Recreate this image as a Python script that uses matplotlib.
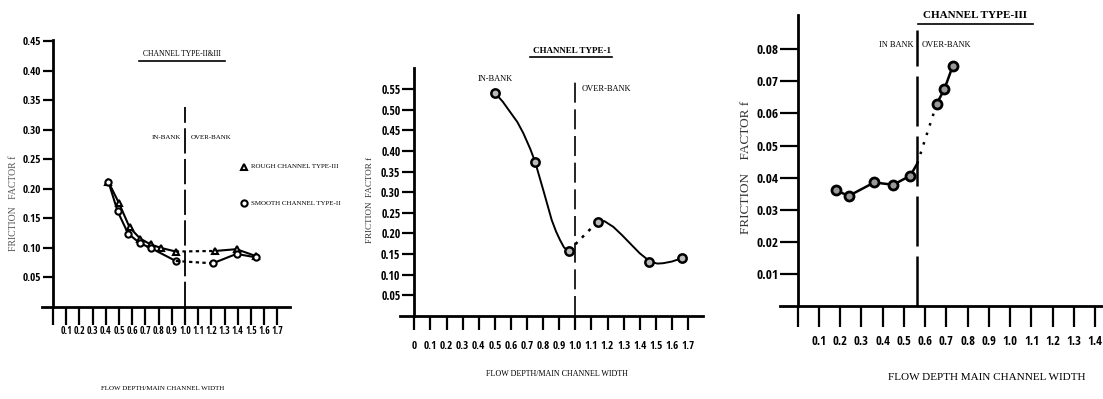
import matplotlib.pyplot as plt
from matplotlib.lines import Line2D

W, H = 1103, 399

# ---------------- data ----------------
# panel 1 : channel type II & III
p1_xticks = [0.0, 0.1, 0.2, 0.3, 0.4, 0.5, 0.6, 0.7, 0.8, 0.9, 1.0, 1.1, 1.2, 1.3, 1.4, 1.5, 1.6, 1.7]
p1_xlabels = ['', '0.1', '0.2', '0.3', '0.4', '0.5', '0.6', '0.7', '0.8', '0.9', '1.0',
              '1.1', '1.2', '1.3', '1.4', '1.5', '1.6', '1.7']
p1_yticks = [0.05, 0.10, 0.15, 0.20, 0.25, 0.30, 0.35, 0.40, 0.45]
p1_ylabels = ['0.05', '0.10', '0.15', '0.20', '0.25', '0.30', '0.35', '0.40', '0.45']
rough_in_x = [0.42, 0.50, 0.58, 0.66, 0.74, 0.82, 0.93]
rough_in_y = [0.212, 0.176, 0.135, 0.116, 0.106, 0.100, 0.094]
rough_over_x = [1.23, 1.39, 1.54]
rough_over_y = [0.095, 0.098, 0.086]
smooth_in_x = [0.42, 0.49, 0.57, 0.66, 0.74, 0.93]
smooth_in_y = [0.212, 0.162, 0.124, 0.108, 0.100, 0.078]
smooth_over_x = [1.21, 1.39, 1.54]
smooth_over_y = [0.074, 0.090, 0.084]

# panel 2 : channel type 1
p2_xticks = p1_xticks
p2_xlabels = ['0'] + p1_xlabels[1:]
p2_yticks = [0.05, 0.10, 0.15, 0.20, 0.25, 0.30, 0.35, 0.40, 0.45, 0.50, 0.55]
p2_ylabels = ['0.05', '0.10', '0.15', '0.20', '0.25', '0.30', '0.35', '0.40', '0.45', '0.50', '0.55']
t1_pts_x = [0.50, 0.75, 0.96, 1.14, 1.46, 1.66]
t1_pts_y = [0.541, 0.372, 0.158, 0.229, 0.132, 0.140]
# points
t1_in_curve_x = [0.50, 0.55, 0.594, 0.64, 0.677, 0.72, 0.75, 0.775, 0.801, 0.83, 0.853, 0.88, 0.905, 0.93, 0.957]
t1_in_curve_y = [0.541, 0.519, 0.495, 0.470, 0.443, 0.405, 0.374, 0.340, 0.305, 0.265, 0.233, 0.205, 0.184, 0.166, 0.158]
t1_over_curve_x = [1.143, 1.18, 1.236, 1.29, 1.34, 1.40, 1.464, 1.51, 1.547, 1.60, 1.661]
t1_over_curve_y = [0.229, 0.230, 0.216, 0.196, 0.176, 0.152, 0.132, 0.127, 0.128, 0.132, 0.140]

# panel 3 : channel type III
p3_xticks = [0.0, 0.1, 0.2, 0.3, 0.4, 0.5, 0.6, 0.7, 0.8, 0.9, 1.0, 1.1, 1.2, 1.3, 1.4]
p3_xlabels = ['', '0.1', '0.2', '0.3', '0.4', '0.5', '0.6', '0.7', '0.8', '0.9', '1.0',
              '1.1', '1.2', '1.3', '1.4']
p3_yticks = [0.01, 0.02, 0.03, 0.04, 0.05, 0.06, 0.07, 0.08]
p3_ylabels = ['0.01', '0.02', '0.03', '0.04', '0.05', '0.06', '0.07', '0.08']
t3_in_x = [0.18, 0.24, 0.36, 0.45, 0.53]
t3_in_y = [0.0361, 0.0343, 0.0385, 0.0378, 0.0406]
t3_edge = [0.563, 0.0444]      # where the in-bank line meets the bank line
t3_over_x = [0.655, 0.69, 0.73]
t3_over_y = [0.0631, 0.0675, 0.0748]

TICKFONT = ['Open Sans Condensed', 'DejaVu Sans']
SERIF = 'Liberation Serif'

fig = plt.figure(figsize=(W / 100, H / 100), dpi=100)


def panel(left, right, top, bottom, xlim, ylim, xt, xl, yt, yl, xlen, xpad, xfs, ylen, yfs):
    ax = fig.add_axes([left / W, 1 - bottom / H, (right - left) / W, (bottom - top) / H])
    ax.set_xlim(*xlim)
    ax.set_ylim(*ylim)
    for s in ['top', 'right']:
        ax.spines[s].set_visible(False)
    ax.spines['left'].set_position(('data', 0))
    ax.spines['left'].set_linewidth(2)
    ax.spines['bottom'].set_linewidth(2)
    ax.set_xticks(xt)
    ax.set_xticklabels(xl, fontsize=xfs, fontweight='bold', family=TICKFONT)
    ax.set_yticks(yt)
    ax.set_yticklabels(yl, fontsize=yfs, fontweight='bold', family=TICKFONT)
    ax.tick_params(axis='x', direction='out', length=xlen, width=1.6, pad=xpad)
    ax.tick_params(axis='y', direction='out', length=ylen, width=1.6, pad=1)
    ax.patch.set_alpha(0)
    return ax


def underline(x0, x1, y):
    fig.add_artist(Line2D([x0 / W, x1 / W], [1 - y / H, 1 - y / H], color='black', lw=1.2))


# ---------------- panel 1 ----------------
ax1 = panel(42, 290, 40, 307, (-0.083, 1.795), (0, 0.4525), p1_xticks, p1_xlabels,
            p1_yticks, p1_ylabels, 13, 1, 7, 7.5, 8)
ax1.plot([1.0, 1.0], [0, 0.339], color='black', lw=1.3, dashes=(14, 3))
ax1.plot(rough_in_x, rough_in_y, color='black', lw=1.5, marker='^', ms=5, mfc='white', mew=1.5)
ax1.plot(smooth_in_x, smooth_in_y, color='black', lw=1.5, marker='o', ms=4.5, mfc='white', mew=1.5)
ax1.plot([rough_in_x[-1], rough_over_x[0]], [rough_in_y[-1], rough_over_y[0]],
         color='black', lw=1.6, ls=(0, (1.5, 1.5)))
ax1.plot([smooth_in_x[-1], smooth_over_x[0]], [smooth_in_y[-1], smooth_over_y[0]],
         color='black', lw=1.6, ls=(0, (1.5, 1.5)))
ax1.plot(rough_over_x, rough_over_y, color='black', lw=1.5, marker='^', ms=5, mfc='white', mew=1.5)
ax1.plot(smooth_over_x, smooth_over_y, color='black', lw=1.5, marker='o', ms=4.5, mfc='white', mew=1.5)
ax1.text(0.97, 0.288, 'IN-BANK', ha='right', va='center', fontsize=5, family=SERIF)
ax1.text(1.04, 0.288, 'OVER-BANK', ha='left', va='center', fontsize=5, family=SERIF)
ax1.plot([1.45], [0.238], marker='^', color='black', ms=5, mfc='white', mew=1.5, clip_on=False)
ax1.text(1.50, 0.238, 'ROUGH CHANNEL TYPE-III', ha='left', va='center', fontsize=5,
         family=SERIF, clip_on=False)
ax1.plot([1.45], [0.176], marker='o', color='black', ms=4.5, mfc='white', mew=1.5, clip_on=False)
ax1.text(1.50, 0.176, 'SMOOTH CHANNEL TYPE-II', ha='left', va='center', fontsize=5,
         family=SERIF, clip_on=False)
fig.text(182 / W, 1 - 54 / H, 'CHANNEL TYPE-II&III', ha='center', va='center', fontsize=5.5, family=SERIF)
underline(139, 225, 61)
fig.text(14 / W, 1 - 203 / H, 'FRICTION   FACTOR f', rotation=90, ha='center', va='center',
         fontsize=7, family=SERIF, color='#555555')
fig.text(163 / W, 1 - 388 / H, 'FLOW DEPTH/MAIN CHANNEL WIDTH', ha='center', va='center',
         fontsize=5, family=SERIF)

# ---------------- panel 2 ----------------
ax2 = panel(400, 703, 68, 316, (-0.089, 1.793), (0, 0.601), p2_xticks, p2_xlabels,
            p2_yticks, p2_ylabels, 10, 8, 8, 9, 8.5)
ax2.plot([1.0, 1.0], [0, 0.572], color='black', lw=1.2, dashes=(12, 4))
ax2.plot(t1_in_curve_x, t1_in_curve_y, color='black', lw=1.4)
ax2.plot(t1_over_curve_x, t1_over_curve_y, color='black', lw=1.4)
ax2.plot([t1_pts_x[2], t1_pts_x[3]], [t1_pts_y[2], t1_pts_y[3]], color='black', lw=1.8,
         ls=(0, (1.2, 2.5)))
ax2.plot(t1_pts_x, t1_pts_y, ls='none', marker='o', ms=6, mfc='#bbbbbb', mec='black', mew=1.8)
ax2.text(0.50, 0.575, 'IN-BANK', ha='center', va='center', fontsize=6, family=SERIF)
ax2.text(1.04, 0.55, 'OVER-BANK', ha='left', va='center', fontsize=6, family=SERIF)
fig.text(572 / W, 1 - 51 / H, 'CHANNEL TYPE-1', ha='center', va='center', fontsize=6.5,
         family=SERIF, fontweight='bold')
underline(530, 612, 57)
fig.text(370 / W, 1 - 200 / H, 'FRICTION  FACTOR f', rotation=90, ha='center', va='center',
         fontsize=6.5, family=SERIF, color='#333333')
fig.text(557 / W, 1 - 374 / H, 'FLOW DEPTH/MAIN CHANNEL WIDTH', ha='center', va='center',
         fontsize=5.8, family=SERIF)

# ---------------- panel 3 ----------------
ax3 = panel(780, 1103, 15, 306, (-0.083, 1.437), (0, 0.0907), p3_xticks, p3_xlabels,
            p3_yticks, p3_ylabels, 15, 6, 9, 13, 9.5)
ax3.plot([0.563, 0.563], [0, 0.086], color='black', lw=1.8, dashes=(20, 4))
ax3.plot(t3_in_x + [t3_edge[0]], t3_in_y + [t3_edge[1]], color='black', lw=1.8)
ax3.plot([t3_edge[0], t3_over_x[0]], [t3_edge[1], t3_over_y[0]], color='black', lw=1.8,
         ls=(0, (1, 3)))
ax3.plot(t3_over_x, t3_over_y, color='black', lw=1.8)
ax3.plot(t3_in_x + t3_over_x, t3_in_y + t3_over_y, ls='none', marker='o', ms=6.5,
         mfc='#999999', mec='black', mew=2)
ax3.text(0.545, 0.0815, 'IN BANK', ha='right', va='center', fontsize=6, family=SERIF)
ax3.text(0.585, 0.0815, 'OVER-BANK', ha='left', va='center', fontsize=6, family=SERIF)
fig.text(975 / W, 1 - 15 / H, 'CHANNEL TYPE-III', ha='center', va='center', fontsize=8,
         family=SERIF, fontweight='bold')
underline(918, 1033, 24)
fig.text(746 / W, 1 - 167 / H, 'FRICTION    FACTOR f', rotation=90, ha='center', va='center',
         fontsize=9.5, family=SERIF, color='#333333')
fig.text(987 / W, 1 - 378 / H, 'FLOW DEPTH MAIN CHANNEL WIDTH', ha='center', va='center',
         fontsize=8, family=SERIF)

fig.savefig('out.png', dpi=100)
